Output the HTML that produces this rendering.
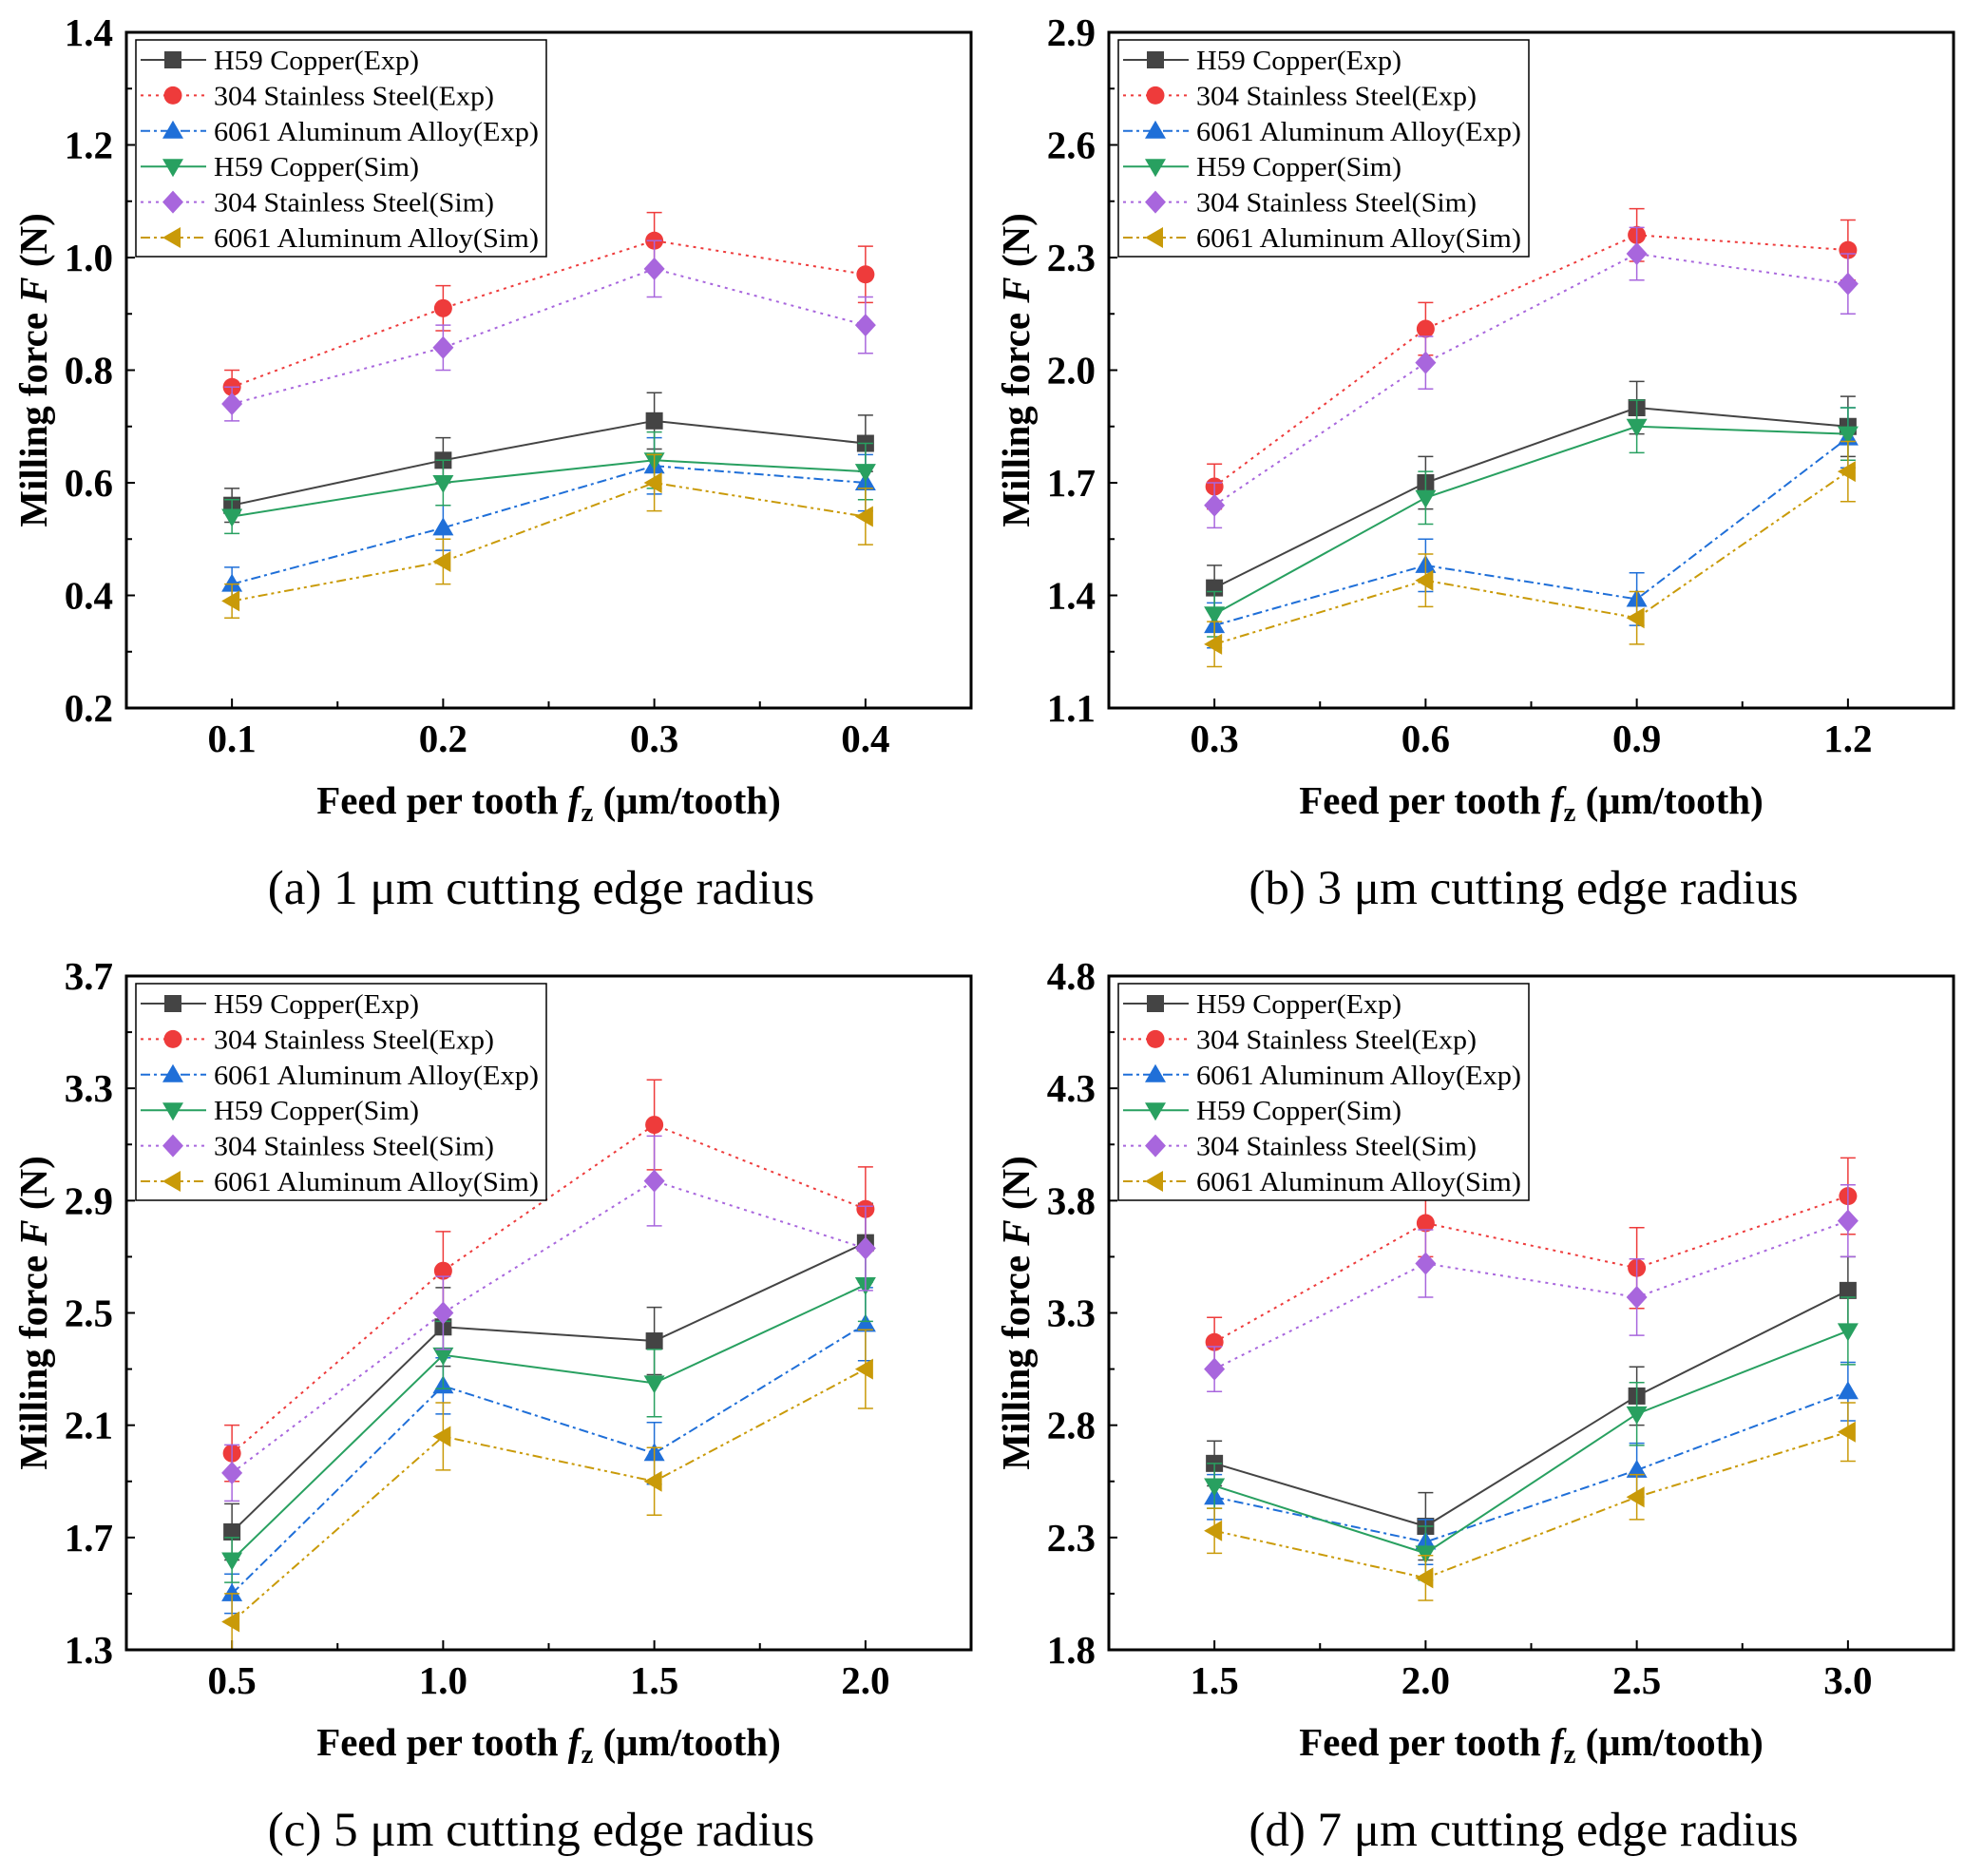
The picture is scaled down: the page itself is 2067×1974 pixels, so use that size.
<!DOCTYPE html>
<html><head><meta charset="utf-8"><style>
html,body{margin:0;padding:0;background:#fff;}
svg{display:block;}
</style></head><body>
<svg id="s" width="2067" height="1974" xmlns="http://www.w3.org/2000/svg" font-family="'Liberation Serif', serif"></svg>
<script>
const S=document.getElementById('s');
let out='';
const series=[
 {c:'#444444',dash:'',m:'sq',name:'H59 Copper(Exp)',w:216},
 {c:'#ee3b3b',dash:'3,5',m:'ci',name:'304 Stainless Steel(Exp)',w:295},
 {c:'#1f6fd8',dash:'10,4,3,4',m:'tu',name:'6061 Aluminum Alloy(Exp)',w:342},
 {c:'#28a060',dash:'',m:'td',name:'H59 Copper(Sim)',w:216},
 {c:'#a866dd',dash:'3,5',m:'di',name:'304 Stainless Steel(Sim)',w:295},
 {c:'#c99a08',dash:'10,4,3,4,3,4',m:'tl',name:'6061 Aluminum Alloy(Sim)',w:342}
];
const panels=[
 {L:133,R:1022,T:34,B:745,xs:[0.1,0.2,0.3,0.4],xl:['0.1','0.2','0.3','0.4'],y0:0.2,y1:1.4,ys:0.2,cap:'(a) 1 μm cutting edge radius',
  d:[[.56,.64,.71,.67],[.77,.91,1.03,.97],[.42,.52,.63,.60],[.54,.60,.64,.62],[.74,.84,.98,.88],[.39,.46,.60,.54]],
  e:[[.03,.04,.05,.05],[.03,.04,.05,.05],[.03,.04,.05,.05],[.03,.04,.05,.05],[.03,.04,.05,.05],[.03,.04,.05,.05]]},
 {L:1167,R:2056,T:34,B:745,xs:[0.3,0.6,0.9,1.2],xl:['0.3','0.6','0.9','1.2'],y0:1.1,y1:2.9,ys:0.3,cap:'(b) 3 μm cutting edge radius',
  d:[[1.42,1.70,1.90,1.85],[1.69,2.11,2.36,2.32],[1.32,1.48,1.39,1.82],[1.35,1.66,1.85,1.83],[1.64,2.02,2.31,2.23],[1.27,1.44,1.34,1.73]],
  e:[[.06,.07,.07,.08],[.06,.07,.07,.08],[.06,.07,.07,.08],[.06,.07,.07,.07],[.06,.07,.07,.08],[.06,.07,.07,.08]]},
 {L:133,R:1022,T:1027,B:1736,xs:[0.5,1.0,1.5,2.0],xl:['0.5','1.0','1.5','2.0'],y0:1.3,y1:3.7,ys:0.4,cap:'(c) 5 μm cutting edge radius',
  d:[[1.72,2.45,2.40,2.75],[2.00,2.65,3.17,2.87],[1.50,2.24,2.00,2.46],[1.62,2.35,2.25,2.60],[1.93,2.50,2.97,2.73],[1.40,2.06,1.90,2.30]],
  e:[[.1,.14,.12,.14],[.1,.14,.16,.15],[.07,.1,.11,.13],[.08,.12,.12,.13],[.1,.13,.16,.15],[.1,.12,.12,.14]]},
 {L:1167,R:2056,T:1027,B:1736,xs:[1.5,2.0,2.5,3.0],xl:['1.5','2.0','2.5','3.0'],y0:1.8,y1:4.8,ys:0.5,cap:'(d) 7 μm cutting edge radius',
  d:[[2.63,2.35,2.93,3.40],[3.17,3.70,3.50,3.82],[2.48,2.28,2.60,2.95],[2.53,2.23,2.85,3.22],[3.05,3.52,3.37,3.71],[2.33,2.12,2.48,2.77]],
  e:[[.1,.15,.13,.15],[.11,.15,.18,.17],[.1,.1,.12,.13],[.1,.12,.14,.15],[.1,.15,.17,.16],[.1,.1,.1,.13]]}
];
function marker(m,x,y,c){
 const s=9;
 if(m=='sq')return `<rect x="${x-s}" y="${y-s}" width="${2*s}" height="${2*s}" fill="${c}"/>`;
 if(m=='ci')return `<circle cx="${x}" cy="${y}" r="${s+0.5}" fill="${c}"/>`;
 if(m=='tu')return `<polygon points="${x},${y-11} ${x+11},${y+8} ${x-11},${y+8}" fill="${c}"/>`;
 if(m=='td')return `<polygon points="${x},${y+11} ${x+11},${y-8} ${x-11},${y-8}" fill="${c}"/>`;
 if(m=='di')return `<polygon points="${x},${y-12} ${x+11},${y} ${x},${y+12} ${x-11},${y}" fill="${c}"/>`;
 if(m=='tl')return `<polygon points="${x-11},${y} ${x+8},${y-11} ${x+8},${y+11}" fill="${c}"/>`;
}
panels.forEach(p=>{
 const step=(p.R-p.L)/4;
 const xa=p.L+step*0.5, dx=step/(p.xs[1]-p.xs[0]);
 const X=v=>xa+(v-p.xs[0])*dx;
 const Y=v=>p.B-(v-p.y0)/(p.y1-p.y0)*(p.B-p.T);
 for(let v=p.y0;v<=p.y1+1e-9;v+=p.ys){
  const y=Y(v);
  out+=`<line x1="${p.L}" y1="${y}" x2="${p.L+9}" y2="${y}" stroke="#000" stroke-width="2"/>`;
  out+=`<text x="${p.L-14}" y="${y+14}" text-anchor="end" font-size="41" font-weight="bold">${v.toFixed(1)}</text>`;
  if(v+p.ys<=p.y1+1e-9){const ym=Y(v+p.ys/2);out+=`<line x1="${p.L}" y1="${ym}" x2="${p.L+6}" y2="${ym}" stroke="#000" stroke-width="2"/>`;}
 }
 p.xs.forEach((v,i)=>{
  const x=X(v);
  out+=`<line x1="${x}" y1="${p.B}" x2="${x}" y2="${p.B-10}" stroke="#000" stroke-width="2"/>`;
  out+=`<text x="${x}" y="${p.B+46}" text-anchor="middle" font-size="41" font-weight="bold">${p.xl[i]}</text>`;
  if(i<3){const xm=x+step/2;out+=`<line x1="${xm}" y1="${p.B}" x2="${xm}" y2="${p.B-7}" stroke="#000" stroke-width="2"/>`;}
 });
 series.forEach((s,k)=>{
  const pts=p.xs.map((v,i)=>X(v)+','+Y(p.d[k][i])).join(' ');
  out+=`<polyline points="${pts}" fill="none" stroke="${s.c}" stroke-width="2" ${s.dash?`stroke-dasharray="${s.dash}"`:''}/>`;
  p.xs.forEach((v,i)=>{
   const x=X(v),e=p.e[k][i];
   const y1=Y(p.d[k][i]+e),y2=Y(p.d[k][i]-e);
   out+=`<g stroke="${s.c}" stroke-width="1.5"><line x1="${x}" y1="${y1}" x2="${x}" y2="${y2}"/><line x1="${x-8}" y1="${y1}" x2="${x+8}" y2="${y1}"/><line x1="${x-8}" y1="${y2}" x2="${x+8}" y2="${y2}"/></g>`;
  });
  p.xs.forEach((v,i)=>{out+=marker(s.m,X(v),Y(p.d[k][i]),s.c);});
 });
 out+=`<rect x="${p.L}" y="${p.T}" width="${p.R-p.L}" height="${p.B-p.T}" fill="none" stroke="#000" stroke-width="3"/>`;
 const lx=p.L+10, ly=p.T+8;
 out+=`<rect x="${lx}" y="${ly}" width="432" height="228" fill="#fff" stroke="#000" stroke-width="1.5"/>`;
 series.forEach((s,k)=>{
  const y=ly+21+k*37.4;
  out+=`<line x1="${lx+5}" y1="${y}" x2="${lx+74}" y2="${y}" stroke="${s.c}" stroke-width="2" ${s.dash?`stroke-dasharray="${s.dash}"`:''}/>`;
  out+=marker(s.m,lx+39,y,s.c);
  out+=`<text x="${lx+82}" y="${y+10}" font-size="29" textLength="${s.w}" lengthAdjust="spacingAndGlyphs">${s.name}</text>`;
 });
 const cx=(p.L+p.R)/2, cy=(p.T+p.B)/2;
 out+=`<text x="${cx}" y="${p.B+111}" text-anchor="middle" font-size="41" font-weight="bold">Feed per tooth <tspan font-style="italic">f</tspan><tspan font-size="29" dy="8">z</tspan><tspan dy="-8"> (μm/tooth)</tspan></text>`;
 out+=`<text transform="translate(${p.L-84},${cy}) rotate(-90)" text-anchor="middle" font-size="41" font-weight="bold">Milling force <tspan font-style="italic">F</tspan> (N)</text>`;
 out+=`<text x="${cx-8}" y="${p.B+206}" text-anchor="middle" font-size="51">${p.cap}</text>`;
});
S.innerHTML=out;
</script>
</body></html>
